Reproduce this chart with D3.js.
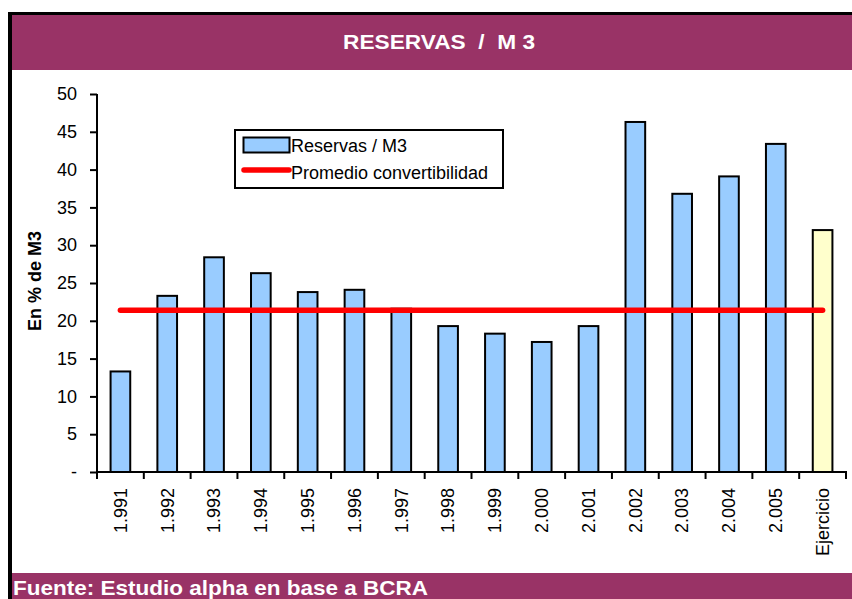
<!DOCTYPE html>
<html>
<head>
<meta charset="utf-8">
<script src="https://cdn.jsdelivr.net/npm/d3@7/dist/d3.min.js"></script>
<style>
  html, body { margin: 0; padding: 0; background: #fff; }
  svg { display: block; }
  text { font-family: "Liberation Sans", Arial, sans-serif; }
</style>
</head>
<body>
<svg id="chart" width="852" height="599"></svg>
<script>
const categories = ["1.991","1.992","1.993","1.994","1.995","1.996","1.997","1.998","1.999","2.000","2.001","2.002","2.003","2.004","2.005","Ejercicio"];
const reservas = [13.3,23.3,28.4,26.3,23.8,24.1,21.6,19.3,18.3,17.2,19.3,46.3,36.8,39.1,43.4,32.0];
const promedio = [21.4,21.4,21.4,21.4,21.4,21.4,21.4,21.4,21.4,21.4,21.4,21.4,21.4,21.4,21.4,21.4];
const yTicks = [0,5,10,15,20,25,30,35,40,45,50];
const titleText = "RESERVAS  /  M 3";
const yTitle = "En % de M3";
const sourceText = "Fuente: Estudio alpha en base a BCRA";
const legendLabels = ["Reservas / M3", "Promedio convertibilidad"];

const maroon = "#993366";
const svg = d3.select("#chart");

// frame
svg.append("rect").attr("x", 8).attr("y", 12).attr("width", 844).attr("height", 587).attr("fill", "#000");
svg.append("rect").attr("x", 12).attr("y", 15).attr("width", 840).attr("height", 584).attr("fill", "#fff");
// title band
svg.append("rect").attr("x", 12).attr("y", 15).attr("width", 840).attr("height", 55).attr("fill", maroon);
svg.append("text").attr("x", 439).attr("y", 49).attr("text-anchor", "middle")
  .attr("fill", "#fff").attr("font-weight", "bold").attr("font-size", 20)
  .attr("textLength", 192).attr("lengthAdjust", "spacingAndGlyphs")
  .style("white-space", "pre").text(titleText);
// footer band
svg.append("rect").attr("x", 12).attr("y", 573).attr("width", 840).attr("height", 26).attr("fill", maroon);
svg.append("text").attr("x", 13).attr("y", 595).attr("fill", "#fff")
  .attr("font-weight", "bold").attr("font-size", 21)
  .attr("textLength", 415).attr("lengthAdjust", "spacingAndGlyphs")
  .text(sourceText);

const x = d3.scaleBand().domain(categories).range([97, 846]).paddingInner(0.58).paddingOuter(0.29);
const y = d3.scaleLinear().domain([0, 50]).range([472, 94]);

// bars
svg.append("g").selectAll("rect").data(reservas).join("rect")
  .attr("x", (d, i) => x(categories[i]))
  .attr("y", d => y(d))
  .attr("width", x.bandwidth())
  .attr("height", d => y(0) - y(d))
  .attr("fill", (d, i) => categories[i] === "Ejercicio" ? "#FFFFCC" : "#99CCFF")
  .attr("stroke", "#000").attr("stroke-width", 2);

// average line
const line = d3.line().x((d, i) => x(categories[i]) + x.bandwidth() / 2).y(d => y(d));
svg.append("path").datum(promedio).attr("d", line)
  .attr("fill", "none").attr("stroke", "#FF0000").attr("stroke-width", 5.5).attr("stroke-linecap", "round");

// y axis
const yAxis = svg.append("g").attr("transform", "translate(97,0)")
  .call(d3.axisLeft(y).tickValues(yTicks).tickSize(7).tickPadding(13)
    .tickFormat(d => d === 0 ? "-" : d));
yAxis.select(".domain").attr("stroke", "#000").attr("stroke-width", 2).attr("d", "M0,94V472");
yAxis.selectAll(".tick line").attr("stroke", "#000").attr("stroke-width", 2);
yAxis.selectAll(".tick text").attr("font-size", 18).attr("fill", "#000")
  .style("font-family", '"Liberation Sans", Arial, sans-serif');

// x axis
const xAxis = svg.append("g").attr("transform", "translate(0,472)")
  .call(d3.axisBottom(x).tickSize(0).tickPadding(0));
xAxis.select(".domain").attr("stroke", "#000").attr("stroke-width", 2).attr("d", "M96,0H847");
xAxis.selectAll(".tick text")
  .attr("transform", "rotate(-90)")
  .attr("x", -16).attr("y", 0).attr("dy", "0.35em")
  .attr("text-anchor", "end").attr("font-size", 18).attr("fill", "#000")
  .style("font-family", '"Liberation Sans", Arial, sans-serif');
// boundary ticks
const step = x.step();
const bounds = categories.map(c => x(c) - (step - x.bandwidth()) / 2).concat([x(categories[categories.length - 1]) + x.bandwidth() + (step - x.bandwidth()) / 2]);
svg.append("g").selectAll("line").data(bounds).join("line")
  .attr("x1", d => d).attr("x2", d => d).attr("y1", 472).attr("y2", 479)
  .attr("stroke", "#000").attr("stroke-width", 2);

// y title
svg.append("text").attr("transform", "translate(41,281) rotate(-90)")
  .attr("text-anchor", "middle").attr("font-weight", "bold").attr("font-size", 18)
  .attr("fill", "#000").text(yTitle);

// legend
const lg = svg.append("g");
lg.append("rect").attr("x", 235).attr("y", 130).attr("width", 268).attr("height", 58)
  .attr("fill", "#fff").attr("stroke", "#000").attr("stroke-width", 2);
lg.append("rect").attr("x", 243.5).attr("y", 137.5).attr("width", 46).attr("height", 15)
  .attr("fill", "#99CCFF").attr("stroke", "#000").attr("stroke-width", 2);
lg.append("line").attr("x1", 244).attr("x2", 289).attr("y1", 170).attr("y2", 170)
  .attr("stroke", "#FF0000").attr("stroke-width", 5.5).attr("stroke-linecap", "round");
lg.append("text").attr("x", 291).attr("y", 151.5).attr("font-size", 18).attr("fill", "#000").text(legendLabels[0]);
lg.append("text").attr("x", 291).attr("y", 178.5).attr("font-size", 18).attr("fill", "#000").text(legendLabels[1]);
</script>
</body>
</html>
